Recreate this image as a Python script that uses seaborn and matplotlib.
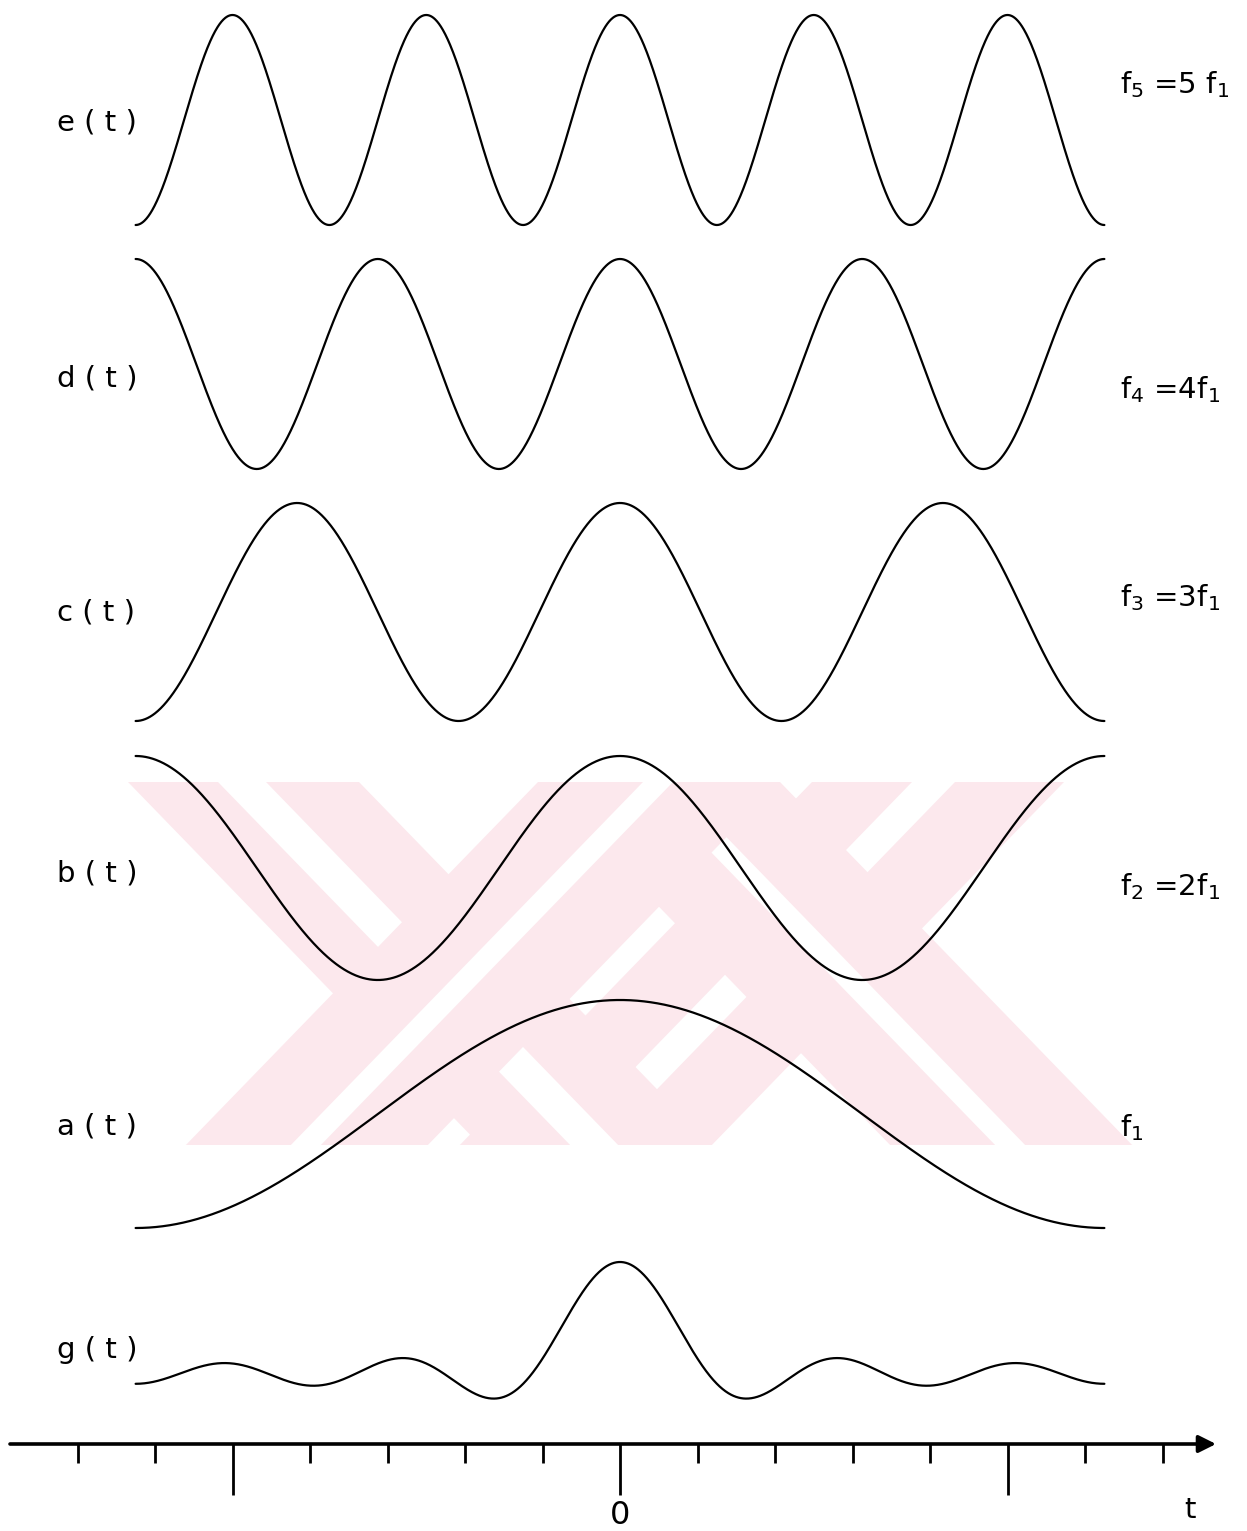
import numpy as np
import pandas as pd
import matplotlib
matplotlib.use("Agg")
import matplotlib.pyplot as plt
import seaborn as sns

# Harmonic components of g(t) and their labels
curve_labels = ["e ( t )", "d ( t )", "c ( t )", "b ( t )", "a ( t )"]
harmonic_order = [5, 4, 3, 2, 1]
amplitudes = [1.0, 1.0, 1.0, 1.0, 1.0]
freq_labels = ["f$_5$ =5 f$_1$", "f$_4$ =4f$_1$", "f$_3$ =3f$_1$", "f$_2$ =2f$_1$", "f$_1$"]
sum_label = "g ( t )"

period = 12.5                      # fundamental period, in tick spacings
tick_positions = list(range(-7, 8))
long_tick_positions = [-5, 0, 5]
origin_label = "0"
axis_name = "t"

W, H = 1247, 1531
X0, XSCALE = 620.0, 77.5          # pixel column of t=0 and pixels per tick

sns.set_theme(style="white")
plt.rcParams["font.family"] = ["DejaVu Sans"]
plt.rcParams["text.color"] = "black"

fig = plt.figure(figsize=(W / 100, H / 100), dpi=100)
ax = fig.add_axes([0, 0, 1, 1])
ax.set_xlim(-X0 / XSCALE, (W - X0) / XSCALE)
ax.set_ylim(H, 0)
ax.axis("off")


def px_to_t(px):
    return (px - X0) / XSCALE


# faint background emblem: crossing arms, each a double band
def strip(x_left, x_right, direction, color, z, top=782, bottom=1145, lean=0.97):
    shift = direction * (bottom - top) * lean
    xs = [x_left, x_right, x_right + shift, x_left + shift]
    ys = [top, top, bottom, bottom]
    ax.fill([px_to_t(x) for x in xs], ys, color=color, lw=0, zorder=z)


arms = [  # (outer left, gap left, gap right, outer right, direction)
    (812, 912, 955, 1064, -1),
    (128, 218, 266, 359, 1),
    (538, 643, 673, 780, 1),
    (538, 643, 673, 780, -1),
]
for i, (a, g1, g2, b, d) in enumerate(arms):
    strip(a, b, d, "#fce8ed", 0.1 + 0.02 * i)
    strip(g1, g2, d, "white", 0.11 + 0.02 * i)

t = np.linspace(-period / 2, period / 2, 2000)

# rows: (vertical centre, half height) in pixel rows
row_geometry = [(120, 105), (364, 105), (612, 109), (868, 112), (1114, 114)]
label_rows = [123, 378, 613, 873, 1127]
freq_rows = [85, 390, 598, 887, 1128]

components = []
for k, amp, (yc, hh) in zip(harmonic_order, amplitudes, row_geometry):
    wave = amp * np.cos(2 * np.pi * k * t / period)
    components.append(wave)
    df = pd.DataFrame({"t": t, "y": yc - hh * wave})
    sns.lineplot(data=df, x="t", y="y", ax=ax, color="black",
                 linewidth=1.6, sort=False, estimator=None)

total = np.sum(components, axis=0)
df_g = pd.DataFrame({"t": t, "y": 1363.5 - 20.3 * total})
sns.lineplot(data=df_g, x="t", y="y", ax=ax, color="black",
             linewidth=1.6, sort=False, estimator=None)
for ln in ax.lines:
    ln.set_zorder(3)


def fx(px):
    return px / W


def fy(py):
    return 1 - py / H


for lab, yy in zip(curve_labels + [sum_label], label_rows + [1350]):
    fig.text(fx(57), fy(yy), lab, fontsize=21, ha="left", va="center",
             color="black")

for lab, yy in zip(freq_labels, freq_rows):
    fig.text(fx(1120), fy(yy), lab, fontsize=21, ha="left", va="center",
             color="black")

# time axis with arrow
y_axis = 1444
ax.annotate("", xy=(px_to_t(1216), y_axis), xytext=(px_to_t(10), y_axis),
            arrowprops=dict(arrowstyle="-|>", color="black", lw=2.6,
                            mutation_scale=26, shrinkA=0, shrinkB=0))
short = [p for p in tick_positions if p not in long_tick_positions]
ax.vlines(short, y_axis, 1463, color="black", lw=2.0)
ax.vlines(long_tick_positions, y_axis, 1495, color="black", lw=2.0)

fig.text(fx(620), fy(1516), origin_label, fontsize=23, ha="center",
         va="center", color="black")
fig.text(fx(1190), fy(1510), axis_name, fontsize=21, ha="center",
         va="center", color="black")

fig.savefig("out.png", dpi=100, facecolor="white")
